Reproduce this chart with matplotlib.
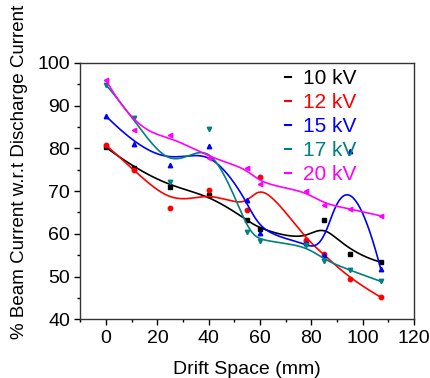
import numpy as np
import matplotlib
matplotlib.use("Agg")
import matplotlib.pyplot as plt
from matplotlib.ticker import MultipleLocator
from matplotlib.lines import Line2D

plt.rcParams['font.family'] = ['Liberation Sans', 'DejaVu Sans']

# drift space positions (mm)
drift = [0, 11, 25, 40, 55, 60, 78, 85, 95, 107]

kv10 = [80.2, 75.4, 71.0, 69.1, 63.2, 61.1, 58.2, 63.2, 55.4, 53.4]
kv12 = [80.7, 75.0, 66.0, 70.2, 65.5, 73.2, 58.5, 55.3, 49.4, 45.2]
kv15 = [87.5, 81.0, 76.2, 80.5, 67.9, 60.1, 57.9, 55.1, 79.3, 51.8]
kv17 = [94.8, 87.1, 72.2, 84.5, 60.5, 58.3, 57.4, 53.7, 51.5, 48.9]
kv20 = [95.9, 84.3, 83.0, 77.8, 75.4, 71.6, 70.1, 66.7, 65.9, 64.2]

labels = ['10 kV', '12 kV', '15 kV', '17 kV', '20 kV']
colors = ['black', '#ff0000', '#0000ff', '#008080', '#ff00ff']
markers = ['s', 'o', '^', 'v', '<']


def bspline(px, py, k=3, num=400):
    # clamped cubic B-spline using the data points as control points
    px = np.asarray(px, float)
    py = np.asarray(py, float)
    n = len(px)
    knots = np.concatenate([np.zeros(k), np.arange(n - k + 1), np.full(k, n - k)])
    t = np.linspace(0, n - k, num)
    t[-1] -= 1e-9
    # Cox-de Boor
    B = np.zeros((num, len(knots) - 1))
    for i in range(len(knots) - 1):
        B[:, i] = (t >= knots[i]) & (t < knots[i + 1])
    for d in range(1, k + 1):
        Bn = np.zeros((num, len(knots) - 1 - d))
        for i in range(len(knots) - 1 - d):
            a = knots[i + d] - knots[i]
            b = knots[i + d + 1] - knots[i + 1]
            term = 0
            if a > 0:
                term = term + (t - knots[i]) / a * B[:, i]
            if b > 0:
                term = term + (knots[i + d + 1] - t) / b * B[:, i + 1]
            Bn[:, i] = term
        B = Bn
    return B @ px, B @ py


fig = plt.figure(figsize=(4.30, 3.78), dpi=100)
ax = fig.add_axes([0.187, 0.155, 0.776, 0.679])

series = [kv10, kv12, kv15, kv17, kv20]
for vals, c, m in zip(series, colors, markers):
    sx, sy = bspline(drift, vals)
    ax.plot(sx, sy, color=c, lw=1.2)
    ax.plot(drift, vals, ls='none', marker=m, color=c, ms=3.2, mec=c)

ax.set_xlim(-10, 120)
ax.set_ylim(40, 100)
ax.xaxis.set_major_locator(MultipleLocator(20))
ax.xaxis.set_minor_locator(MultipleLocator(10))
ax.yaxis.set_major_locator(MultipleLocator(10))
ax.yaxis.set_minor_locator(MultipleLocator(5))
ax.tick_params(which='both', direction='out', top=False, right=False,
               labelsize=14, width=1)
ax.tick_params(which='major', length=4)
ax.tick_params(which='minor', length=2.5)
for s in ax.spines.values():
    s.set_linewidth(1)
    s.set_color('#333333')

ax.set_xlabel('Drift Space (mm)', fontsize=14, labelpad=10)
fig.text(19.5 / 430, 1 - 172 / 378, '% Beam Current w.r.t Discharge Current',
         rotation=90, ha='center', va='center', fontsize=13.5)

handles = [Line2D([0], [0], color=c, lw=1.5) for c in colors]
leg = ax.legend(handles, labels, loc='upper left', bbox_to_anchor=(0.612, 0.975),
                frameon=False, fontsize=15, handlelength=0.3, handletextpad=0.6,
                labelspacing=0.24, borderpad=0, borderaxespad=0)
for txt, c in zip(leg.get_texts(), colors):
    txt.set_color(c)

fig.savefig('out.png', dpi=100)
